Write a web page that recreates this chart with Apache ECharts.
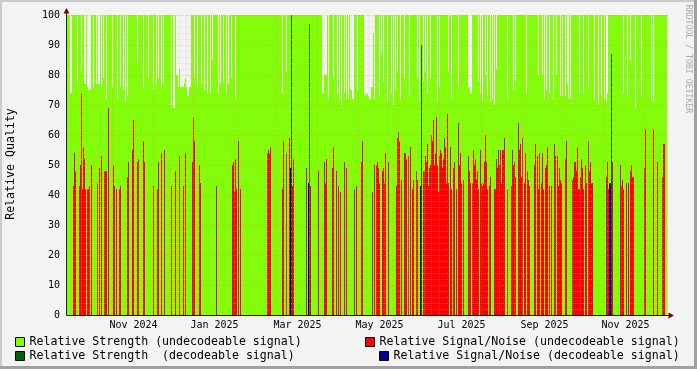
<!DOCTYPE html>
<html>
<head>
<meta charset="utf-8">
<script src="https://cdn.jsdelivr.net/npm/echarts@6/dist/echarts.min.js"></script>
<style>
html,body{margin:0;padding:0;background:#f3f3f3;}
#chart{width:697px;height:369px;}
</style>
</head>
<body>
<div id="chart"></div>
<script>
// ---------------- data ----------------
const slotCount = 600; // one time slot per pixel column

// Relative Strength (undecodeable signal), one value per slot
const strengthUndecodeable = [
100,100,100,74,74,100,100,100,100,100,76,100,100,100,81,100,100,77,77,100,
76,75,75,75,100,100,76,100,100,77,100,77,77,100,76,100,79,100,100,72,
100,100,100,100,100,76,100,100,100,100,72,100,100,76,100,100,75,100,71,100,
73,100,100,100,100,100,100,100,100,100,84,100,100,100,100,100,76,100,100,100,
100,79,100,100,100,100,75,100,100,77,100,79,100,100,76,100,77,100,100,100,
100,100,100,100,70,100,69,69,100,80,80,76,82,76,76,76,76,77,79,76,
73,73,76,76,100,100,100,79,100,100,76,100,100,100,77,100,100,75,100,100,
74,100,100,74,100,85,100,100,100,100,100,74,100,77,100,100,78,100,100,74,
100,77,100,100,79,100,100,100,72,100,100,100,100,100,100,100,100,100,100,100,
100,100,100,100,100,100,100,100,100,100,100,100,100,100,100,100,100,100,100,100,
100,100,100,100,100,100,100,100,100,100,100,100,100,100,100,74,100,100,100,81,
100,100,100,100,100,100,100,100,100,100,100,100,100,100,100,100,100,100,100,100,
100,100,100,100,100,100,100,100,100,100,100,100,100,100,100,74,74,80,80,80,
100,72,100,100,100,100,79,100,100,100,74,100,72,100,70,100,100,74,100,72,
100,72,100,75,75,72,72,100,100,100,75,100,100,100,100,100,100,73,74,73,
74,73,72,72,76,76,94,72,100,100,100,100,73,100,87,100,78,100,100,100,
71,100,100,100,74,100,70,100,75,100,81,100,100,72,100,100,100,79,100,100,
100,100,73,100,100,100,100,100,100,100,79,100,71,100,100,100,78,100,81,100,
74,100,100,79,100,100,100,100,100,100,71,100,76,100,100,100,100,100,100,100,
100,81,100,100,72,100,100,100,100,100,100,76,100,100,100,100,100,100,100,100,
100,76,76,74,74,100,100,100,100,100,100,78,100,74,100,71,100,100,80,100,
73,100,100,71,100,72,100,70,100,82,100,100,100,100,100,100,100,100,100,100,
72,100,100,100,100,100,75,100,78,100,100,100,100,100,100,100,100,100,100,74,
100,100,100,100,100,100,100,100,100,100,100,80,100,100,100,80,100,72,100,75,
100,100,74,100,100,100,72,100,100,80,100,100,100,73,100,73,100,100,73,100,
77,72,100,72,100,100,100,100,100,100,100,100,74,100,100,100,74,100,100,100,
100,76,100,100,100,100,100,72,100,100,100,70,100,100,73,100,100,72,100,71,
74,100,100,100,100,100,100,100,100,100,100,100,100,100,100,100,74,100,100,100,
73,100,100,85,100,100,100,100,69,100,100,100,100,100,73,100,100,100,100,100,
100,100,100,100,72,100,71,100,100,100,100,100,100,100,100,100,100,100,100,100
];

// Relative Signal/Noise (undecodeable signal): [slot, value]
const snrUndecodeable = [
[6,43],[7,54],[8,48],[12,43],[13,50],[14,74],[15,42],[16,56],[17,52],[18,42],[20,42],[21,42],[22,43],[24,50],
[30,44],[32,49],[34,53],[37,48],[38,48],[39,48],[41,69],[46,50],[47,43],[49,42],[52,42],[53,43],[60,46],[61,51],
[65,55],[66,65],[70,51],[71,52],[76,58],[77,51],[86,43],[90,42],[91,51],[94,54],[97,55],[104,43],[108,48],[112,53],
[116,43],[118,54],[125,51],[126,66],[127,58],[132,50],[133,44],[149,43],[165,50],[166,51],[167,41],[168,52],[169,42],
[171,58],[173,42],[200,54],[201,55],[202,54],[203,56],[215,42],[216,58],[219,54],[222,59],[225,43],[226,52],
[239,49],[243,43],[251,48],[257,51],[258,44],[259,52],[265,49],[266,56],[269,48],[271,43],[273,41],[277,51],[279,49],
[287,42],[289,43],[294,51],[295,58],[305,41],[307,50],[309,50],[310,51],[311,49],[312,44],[315,48],[316,49],[317,44],
[318,54],[321,51],[329,43],[330,59],[331,61],[332,58],[334,45],[337,54],[338,54],[339,52],[341,53],[343,56],[345,42],
[346,45],[349,48],[350,45],[356,48],[357,48],[358,53],[359,51],[360,57],[361,43],[362,49],[363,50],[364,60],[365,58],
[366,65],[367,50],[368,54],[369,66],[370,50],[371,41],[372,53],[373,55],[374,54],[375,49],[376,52],[377,59],[378,56],
[379,44],[380,67],[381,44],[383,56],[384,42],[386,49],[387,51],[389,42],[391,64],[392,50],[393,54],[394,44],[396,45],
[401,53],[402,48],[403,44],[405,44],[406,55],[407,50],[408,52],[409,45],[410,48],[411,42],[413,55],[414,44],[415,43],
[416,44],[417,51],[418,60],[419,51],[420,42],[422,43],[423,46],[427,42],[428,42],[429,52],[430,49],[431,55],[432,50],
[433,55],[434,44],[435,55],[436,55],[437,59],[440,42],[444,43],[445,55],[446,50],[447,51],[448,46],[451,64],[452,55],
[453,57],[454,46],[455,59],[457,44],[458,54],[460,48],[461,45],[462,43],[467,50],[468,57],[470,53],[471,42],[472,54],
[474,44],[475,54],[476,42],[478,49],[479,50],[480,56],[482,43],[484,43],[487,57],[488,53],[490,53],[491,43],[492,49],
[493,45],[494,44],[498,52],[499,58],[505,45],[506,46],[507,51],[508,51],[509,48],[510,56],[511,42],[512,42],[513,46],
[514,52],[515,49],[516,42],[518,50],[519,44],[521,58],[522,48],[523,51],[524,44],[525,44],[539,46],[540,51],[541,42],
[545,51],[553,50],[554,43],[555,45],[556,42],[559,44],[561,44],[563,48],[564,50],[565,46],[566,46],[577,49],[578,62],
[586,62],[590,51],[595,46],[596,57],[597,57]
];

// Relative Strength (decodeable signal): [slot, value]
const strengthDecodeable = [[224,100],[242,97],[354,90],[544,87]];
// Relative Signal/Noise (decodeable signal): [slot, value]
const snrDecodeable = [[223,49],[241,44],[353,43],[542,44],[543,44]];

// time axis labels and their slots
const tickLabels = ['Nov 2024','Jan 2025','Mar 2025','May 2025','Jul 2025','Sep 2025','Nov 2025'];
const tickSlots = [66,147,230,312,394,477,558];
// month boundaries (major grid) in slots
const monthSlots = [4,45,86,126,167,209,250,291,331,372,414,455,495,536,577];

const seriesNames = [
  'Relative Strength (undecodeable signal)',
  'Relative Signal/Noise (undecodeable signal)',
  'Relative Strength  (decodeable signal)',
  'Relative Signal/Noise (decodeable signal)'
];
const seriesColors = ['#80FF00','#FF0000','#006600','#000099'];

// ---------------- chart ----------------
const mono = 'DejaVu Sans Mono';
const slots = Array.from({length: slotCount}, (_, i) => String(i));
const tickMap = {};
tickSlots.forEach((s, k) => { tickMap[s] = tickLabels[k]; });
const monthSet = new Set(monthSlots);
const minorSet = new Set();
monthSlots.forEach(m => [10, 18, 26, 33].forEach(d => { if (m + d < slotCount) minorSet.add(m + d); }));

function barSeries(k, data) {
  return {
    name: seriesNames[k], type: 'bar', data: data,
    xAxisIndex: 0, yAxisIndex: 0,
    barGap: '-100%', barCategoryGap: '0%',
    itemStyle: { color: seriesColors[k] },
    silent: true, animation: false
  };
}
function legendAt(k, left, top) {
  return {
    data: [seriesNames[k]], left: left, top: top, padding: 0,
    itemWidth: 9, itemHeight: 9, icon: 'rect', selectedMode: false,
    itemStyle: { borderColor: '#000', borderWidth: 1 },
    textStyle: { fontFamily: mono, fontSize: 11.6, color: '#000' }
  };
}

const chart = echarts.init(document.getElementById('chart'), null, { width: 697, height: 369 });
chart.setOption({
  animation: false,
  backgroundColor: '#f3f3f3',
  grid: { left: 67, top: 15, width: 600, height: 300, containLabel: false },
  xAxis: [
    {
      type: 'category', data: slots, boundaryGap: true, z: 5,
      axisLine: { show: true, lineStyle: { color: '#202020', width: 1 } },
      axisTick: { show: false },
      axisLabel: {
        interval: (i) => tickMap[i] !== undefined,
        formatter: (v, i) => tickMap[i] || '',
        fontFamily: mono, fontSize: 10, color: '#000', margin: 5
      },
      splitLine: { show: true, interval: (i) => monthSet.has(i),
        lineStyle: { color: 'rgba(255,128,128,0.45)', type: [1, 1], width: 1 } }
    },
    {
      type: 'category', data: slots, boundaryGap: true, z: 4, position: 'bottom',
      axisLine: { show: false }, axisTick: { show: false }, axisLabel: { show: false },
      splitLine: { show: true, interval: (i) => minorSet.has(i),
        lineStyle: { color: 'rgba(200,200,200,0.35)', type: [1, 1], width: 1 } }
    }
  ],
  yAxis: {
    type: 'value', min: 0, max: 100, interval: 10, offset: 1, z: 5,
    axisLine: { show: true, lineStyle: { color: '#202020', width: 1 } },
    axisTick: { show: false },
    axisLabel: { fontFamily: mono, fontSize: 10, color: '#000', margin: 6 },
    splitLine: { show: true, lineStyle: { color: 'rgba(255,128,128,0.45)', type: [1, 1] } },
    minorTick: { show: false, splitNumber: 5 },
    minorSplitLine: { show: true, lineStyle: { color: 'rgba(200,200,200,0.4)', type: [1, 1] } }
  },
  legend: [
    legendAt(0, 15, 336),
    legendAt(1, 365, 336),
    legendAt(2, 15, 350),
    legendAt(3, 379, 350)
  ],
  series: [
    barSeries(0, strengthUndecodeable),
    barSeries(1, snrUndecodeable),
    barSeries(2, strengthDecodeable),
    barSeries(3, snrDecodeable)
  ],
  graphic: [
    { type: 'rect', z: 100, shape: { x: 0, y: 0, width: 697, height: 2 }, style: { fill: '#cbcbcb' } },
    { type: 'rect', z: 100, shape: { x: 0, y: 0, width: 2, height: 369 }, style: { fill: '#cbcbcb' } },
    { type: 'rect', z: 100, shape: { x: 0, y: 366, width: 697, height: 3 }, style: { fill: '#a0a0a0' } },
    { type: 'rect', z: 100, shape: { x: 694, y: 0, width: 3, height: 369 }, style: { fill: '#a0a0a0' } },
    { type: 'line', z: 100, shape: { x1: 66.5, y1: 15, x2: 66.5, y2: 12 }, style: { stroke: '#202020', lineWidth: 1 } },
    { type: 'line', z: 100, shape: { x1: 667, y1: 315.5, x2: 670, y2: 315.5 }, style: { stroke: '#202020', lineWidth: 1 } },
    { type: 'polygon', z: 100, shape: { points: [[63.5, 13.5], [69.5, 13.5], [66.5, 8]] }, style: { fill: '#800000' } },
    { type: 'polygon', z: 100, shape: { points: [[668.5, 312.5], [668.5, 318.5], [674, 315.5]] }, style: { fill: '#800000' } },
    { type: 'text', z: 100, x: 11, y: 164, rotation: Math.PI / 2,
      style: { text: 'Relative Quality', font: '11.6px "DejaVu Sans Mono"', fill: '#000', align: 'center', verticalAlign: 'middle' } },
    { type: 'text', z: 100, x: 688, y: 59, rotation: -Math.PI / 2,
      style: { text: 'RRDTOOL / TOBI OETIKER', font: '8.2px "DejaVu Sans Mono"', fill: '#aaaaaa', align: 'center', verticalAlign: 'middle' } }
  ]
});
</script>
</body>
</html>
